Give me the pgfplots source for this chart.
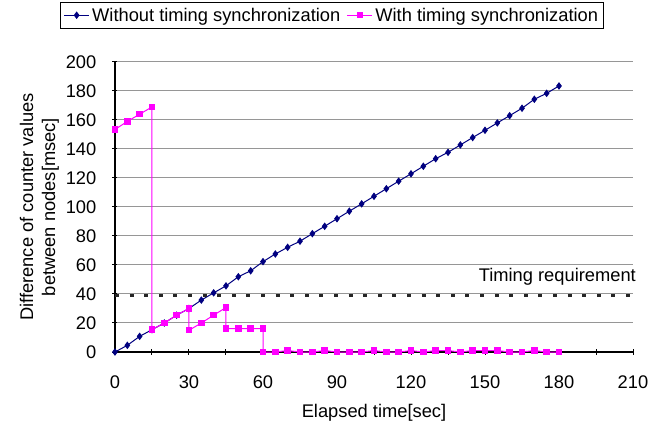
\documentclass[border=0pt]{standalone}
\usepackage{fontspec}
\setmainfont{Liberation Sans}
\usepackage{pgfplots}
\pgfplotsset{compat=1.18}
\definecolor{navy}{RGB}{0,0,128}
\definecolor{pink}{RGB}{255,0,255}
\definecolor{gridgray}{RGB}{150,150,150}

\begin{document}
\begin{tikzpicture}[font=\fontsize{18.3bp}{22bp}\selectfont]
% fixes the page to the reference's 662x425 frame
\path (-115bp,-73bp) rectangle (547bp,352bp);
\begin{axis}[
    scale only axis, width=518bp, height=290bp,
    xmin=0, xmax=210, ymin=0, ymax=200,
    clip=false,
    axis x line=bottom, axis y line=left,
    axis line style={-, line width=1.2bp},
    xtick={0,30,...,210}, minor xtick={15,45,...,195},
    ytick={0,20,...,200},
    tick style={black, line width=1bp},
    major tick length=5bp, minor tick length=5bp,
    ymajorgrids, major grid style={gridgray, line width=1bp},
    /pgf/number format/assume math mode=true,
    xticklabel style={inner sep=0pt, anchor=north, yshift=-21bp},
    yticklabel style={inner sep=0pt, anchor=east, xshift=-16bp},
    xlabel={Elapsed time[sec]},
    x label style={at={(axis description cs:0.5,0)}, anchor=base, inner sep=0pt, yshift=-65bp},
    ylabel={Difference of counter values\\between nodes[msec]},
    y label style={at={(axis description cs:-0.1081,0.5)}, anchor=south, inner sep=0pt, align=center},
    legend columns=2,
    legend style={at={(axis description cs:0.944,1.207)}, anchor=north east,
        draw=black, line width=0.8bp, inner xsep=3bp, inner ysep=3bp,
        nodes={inner sep=2.5bp},
        /tikz/every even column/.append style={column sep=4bp}},
    legend image code/.code={\draw[mark repeat=2,mark phase=2,#1] plot coordinates {(0bp,0bp) (12.5bp,0bp) (25bp,0bp)};},
]
\addplot[navy, line width=1bp, mark=diamond*, mark size=3bp, mark options={solid}] coordinates {
(0,0) (5,4.6) (10,10.8) (15,15.4) (20,20) (25,25.4) (30,30) (35,35.8)
(40,40.8) (45,45.6) (50,51.9) (55,56) (60,62.3) (65,67.6) (70,72.2) (75,76.4)
(80,81.6) (85,86.7) (90,91.9) (95,97.1) (100,102.2) (105,107.4) (110,112.6)
(115,117.8) (120,122.9) (125,128.1) (130,133.3) (135,137.7) (140,142.8)
(145,147.9) (150,152.9) (155,158) (160,163) (165,168.1) (170,174.3)
(175,178.4) (180,183.5)};
\addlegendentry{Without timing synchronization}
\addplot[pink, line width=1bp, mark=square*, mark size=2.7bp, mark options={solid}] coordinates {
(0,153.5) (5,159) (10,164) (15,169) (15,15.5) (20,20) (25,25.4) (30,30)
(30,15) (35,20) (40,25.4) (45,30.7) (45,16.1) (50,16.1) (55,16.1) (60,16.1)
(60,0) (65,0) (70,1) (75,0) (80,0) (85,1) (90,0) (95,0) (100,0) (105,1)
(110,0) (115,0) (120,1) (125,0) (130,1) (135,1) (140,0) (145,1) (150,1)
(155,1) (160,0) (165,0) (170,1) (175,0) (180,0)};
\addlegendentry{With timing synchronization}
\addplot[forget plot, black!85, line width=3.5bp, dash pattern=on 4bp off 10.6bp] coordinates {(0,39) (210,39)};
\node[anchor=base east, inner sep=0pt, xshift=3bp, yshift=13.5bp] at (axis cs:210,39) {Timing requirement};
\end{axis}
\end{tikzpicture}
\end{document}
